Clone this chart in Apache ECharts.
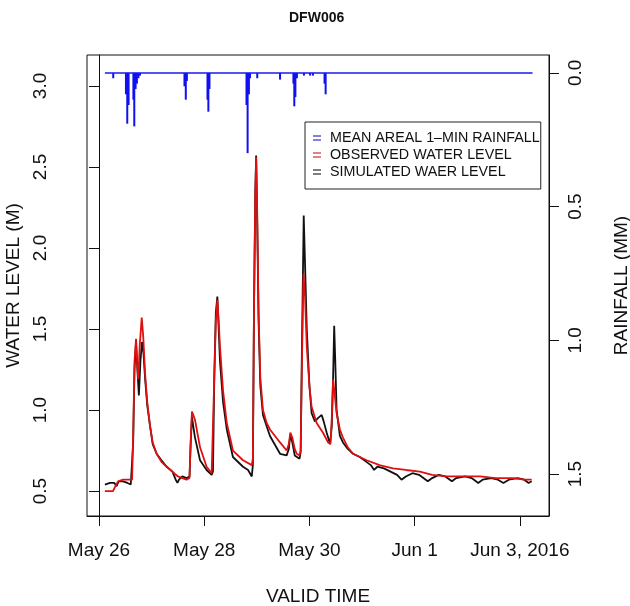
<!DOCTYPE html>
<html>
<head>
<meta charset="utf-8">
<script src="https://cdn.jsdelivr.net/npm/echarts@6/dist/echarts.min.js"></script>
<style>
  html, body { margin: 0; padding: 0; background: #fff; }
  #main { width: 630px; height: 606px; }
</style>
</head>
<body>
<div id="main"></div>
<script>
// time is hours since May 26 00:00
var tickHours = [0, 48, 96, 144, 192];
var tickLabels = ['May 26', 'May 28', 'May 30', 'Jun 1', 'Jun 3, 2016'];
var levelTicks = [0.5, 1.0, 1.5, 2.0, 2.5, 3.0];
var rainTicks = [0.0, 0.5, 1.0, 1.5];

var obsT = [2.7, 6.4, 7.5, 8.7, 11, 15.1, 15.6, 16.2, 16.9, 17.4, 17.9, 18.6, 19.5, 20.2, 21.0, 22.0, 23.3, 24.5, 26.3, 28.5,
    30.9, 33.5, 36.0, 38, 40.0, 41.3, 41.8, 42.4, 43.0, 43.8, 46.1, 49.1, 51.4, 52.0, 52.6, 53.3, 54.0, 54.6, 55.2, 56.6,
    58.3, 61.1, 65.7, 69.7, 70.2, 70.7, 71.3, 71.7, 72.2, 72.8, 73.6, 74.8, 76.5, 78.0, 82.6, 85.6, 86.6, 87.3, 88.2, 89.3,
    90.2, 91.5, 92.0, 92.6, 93.3, 94.0, 94.8, 96.0, 97.0, 99.3, 102.2, 104.5, 105.6, 106.2, 106.8, 107.5, 108.4, 109.9, 111.3, 113.5,
    115.9, 119, 122.1, 128, 134.1, 140, 146.4, 152, 158.6, 166, 173.8, 181, 188.9, 194, 197.4];
var obsV = [0.50, 0.50, 0.53, 0.56, 0.57, 0.57, 0.85, 1.30, 1.44, 1.30, 1.19, 1.40, 1.57, 1.45, 1.23, 1.05, 0.90, 0.80, 0.73, 0.68,
    0.65, 0.62, 0.59, 0.58, 0.57, 0.58, 0.80, 0.99, 0.97, 0.94, 0.77, 0.65, 0.61, 0.62, 1.20, 1.55, 1.68, 1.55, 1.39, 1.12,
    0.92, 0.75, 0.69, 0.66, 0.70, 1.60, 2.30, 2.56, 2.20, 1.60, 1.20, 1.00, 0.92, 0.88, 0.80, 0.75, 0.79, 0.86, 0.83, 0.76,
    0.73, 0.72, 0.75, 1.30, 1.84, 1.70, 1.39, 1.15, 1.02, 0.92, 0.86, 0.80, 0.79, 0.95, 1.19, 1.10, 0.98, 0.88, 0.83, 0.77,
    0.73, 0.71, 0.69, 0.66, 0.64, 0.63, 0.62, 0.60, 0.59, 0.59, 0.59, 0.58, 0.58, 0.57, 0.57];

var simT = [2.7, 5, 7, 8, 9, 11, 13, 14.5, 15.1, 15.6, 16.2, 16.9, 17.5, 18.2, 18.9, 19.6, 20.3, 21.0, 22.0, 23.3,
    24.5, 26.3, 28.5, 30.9, 33.5, 35, 35.8, 36.5, 38, 40.0, 41.3, 41.8, 42.4, 43.0, 43.8, 46.1, 49.1, 51.4, 52.0, 52.6,
    53.3, 54.0, 54.6, 55.2, 56.6, 58.3, 61.1, 65.7, 68, 69.7, 70.2, 70.7, 71.3, 71.7, 72.2, 72.8, 73.6, 74.8, 76.5, 78.0,
    82.6, 85.6, 86.6, 87.3, 88.2, 89.3, 90.2, 91.5, 92.0, 92.6, 93.4, 94.0, 94.8, 96.0, 97.0, 98.5, 99.9, 100.8, 101.6, 102.5,
    103.9, 105.4, 106.2, 106.8, 107.3, 107.8, 108.4, 109.9, 111.3, 113.5, 115.9, 119, 122, 124, 125.5, 127, 130, 133, 136, 138,
    140, 143, 146, 148, 150, 152, 155, 158, 161, 163, 167, 170, 173, 175, 179, 182, 184.5, 187, 191, 194,
    196, 197.4];
var simV = [0.54, 0.55, 0.55, 0.53, 0.56, 0.56, 0.55, 0.54, 0.55, 0.80, 1.25, 1.42, 1.25, 1.09, 1.30, 1.42, 1.35, 1.20, 1.03, 0.90,
    0.79, 0.73, 0.69, 0.65, 0.62, 0.57, 0.55, 0.57, 0.59, 0.58, 0.59, 0.78, 0.96, 0.90, 0.83, 0.69, 0.63, 0.60, 0.62, 1.20,
    1.60, 1.70, 1.50, 1.30, 1.05, 0.88, 0.71, 0.65, 0.63, 0.59, 0.66, 1.60, 2.35, 2.57, 2.15, 1.55, 1.15, 0.97, 0.90, 0.84,
    0.73, 0.72, 0.76, 0.85, 0.80, 0.72, 0.71, 0.70, 0.74, 1.40, 2.20, 1.90, 1.50, 1.15, 0.98, 0.93, 0.95, 0.94, 0.97, 0.93,
    0.86, 0.79, 0.90, 1.20, 1.52, 1.30, 1.00, 0.84, 0.80, 0.76, 0.73, 0.71, 0.68, 0.66, 0.63, 0.65, 0.64, 0.62, 0.60, 0.57,
    0.59, 0.61, 0.60, 0.58, 0.56, 0.58, 0.60, 0.59, 0.56, 0.58, 0.59, 0.58, 0.55, 0.57, 0.58, 0.57, 0.55, 0.57, 0.58, 0.57,
    0.55, 0.56];

var rainT = [6.5, 12.3, 12.9, 13.5, 15.7, 16.1, 16.7, 17.3, 18.0, 18.7, 39.0, 39.6, 40.1, 49.5, 49.9, 50.4,
    67.3, 67.8, 68.4, 68.9, 72.2, 82.6, 88.7, 89.1, 89.6, 90.3, 93.5, 96.3, 97.6, 102.9, 103.4];
var rainV = [0.02, 0.08, 0.19, 0.12, 0.10, 0.20, 0.06, 0.04, 0.02, 0.01, 0.05, 0.10, 0.03, 0.10, 0.145, 0.06,
    0.12, 0.30, 0.08, 0.02, 0.02, 0.025, 0.04, 0.125, 0.09, 0.02, 0.01, 0.01, 0.01, 0.04, 0.08];
var rainSpan = [2.7, 197.8];

var RAIN = 'MEAN AREAL 1–MIN RAINFALL';
var OBS = 'OBSERVED WATER LEVEL';
var SIM = 'SIMULATED WAER LEVEL';

function pairs(t, v) {
    var out = [];
    for (var i = 0; i < t.length; i++) {
        out.push([t[i], v[i]]);
    }
    return out;
}

var font = 'Liberation Sans, Arial, Helvetica, sans-serif';
var eq = 'path://M0,0H10V2H0Z M0,5H10V7H0Z';

var myChart = echarts.init(document.getElementById('main'));

var option = {
    animation: false,
    textStyle: { fontFamily: font },
    graphic: [{
        type: 'text',
        left: 318 - 29,
        top: 11,
        style: { text: 'DFW006', fontSize: 14, fontWeight: 'bold', fill: '#111', fontFamily: font }
    }],
    legend: {
        orient: 'vertical',
        left: 305,
        top: 122,
        padding: [8, 1, 9, 8],
        itemGap: 1,
        itemWidth: 8,
        itemHeight: 6,
        borderColor: '#222',
        borderWidth: 1,
        backgroundColor: '#fff',
        textStyle: { fontSize: 14.3, color: '#111', lineHeight: 16, padding: [0, 0, 0, 4], fontFamily: font },
        data: [
            { name: RAIN, icon: eq, itemStyle: { color: '#5a5ad0' } },
            { name: OBS, icon: eq, itemStyle: { color: '#d85a5a' } },
            { name: SIM, icon: eq, itemStyle: { color: '#555' } }
        ]
    },
    grid: {
        left: 87,
        right: 81,
        top: 55,
        bottom: 90,
        outerBoundsMode: 'none',
        show: true,
        borderColor: '#111',
        borderWidth: 1
    },
    xAxis: {
        type: 'value',
        min: -5.47,
        max: 205.3,
        name: 'VALID TIME',
        nameLocation: 'middle',
        nameGap: 71,
        nameTextStyle: { fontSize: 19, color: '#111' },
        splitLine: { show: false },
        axisLine: { onZero: false, lineStyle: { color: '#111' } },
        axisTick: { length: 10, customValues: tickHours, lineStyle: { color: '#111' } },
        axisLabel: {
            customValues: tickHours,
            margin: 25,
            fontSize: 19,
            color: '#111',
            formatter: function(v) {
                return tickLabels[tickHours.indexOf(v)];
            }
        }
    },
    yAxis: [{
            type: 'value',
            position: 'left',
            min: 0.346,
            max: 3.191,
            name: 'WATER LEVEL (M)',
            nameLocation: 'middle',
            nameRotate: 90,
            nameGap: 60,
            nameTextStyle: { fontSize: 19, color: '#111' },
            splitLine: { show: false },
            axisLine: { show: true, lineStyle: { color: '#111' } },
            axisTick: { show: true, length: 10, customValues: levelTicks, lineStyle: { color: '#111' } },
            axisLabel: {
                customValues: levelTicks,
                rotate: 90,
                margin: 37,
                fontSize: 19,
                color: '#111',
                formatter: function(v) { return v.toFixed(1); }
            }
        },
        {
            type: 'value',
            position: 'right',
            inverse: true,
            min: -0.067,
            max: 1.657,
            name: 'RAINFALL (MM)',
            nameLocation: 'middle',
            nameRotate: 90,
            nameGap: 63,
            nameTextStyle: { fontSize: 19, color: '#111' },
            splitLine: { show: false },
            axisLine: { show: true, lineStyle: { color: '#111' } },
            axisTick: { show: true, length: 10, customValues: rainTicks, lineStyle: { color: '#111' } },
            axisLabel: {
                customValues: rainTicks,
                rotate: 90,
                margin: 17,
                fontSize: 19,
                color: '#111',
                formatter: function(v) { return v.toFixed(1); }
            }
        }
    ],
    series: [{
            name: RAIN,
            type: 'line',
            yAxisIndex: 1,
            data: [[rainSpan[0], 0], [rainSpan[1], 0]],
            symbol: 'none',
            lineStyle: { color: '#1a1aee', width: 1.5 },
            itemStyle: { color: '#1a1aee' }
        },
        {
            name: RAIN,
            type: 'bar',
            yAxisIndex: 1,
            data: pairs(rainT, rainV),
            barWidth: 2,
            itemStyle: { color: '#1010f0' }
        },
        {
            name: SIM,
            type: 'line',
            data: pairs(simT, simV),
            symbol: 'none',
            lineStyle: { color: '#111', width: 1.8 },
            itemStyle: { color: '#111' }
        },
        {
            name: OBS,
            type: 'line',
            data: pairs(obsT, obsV),
            symbol: 'none',
            lineStyle: { color: '#e01010', width: 1.8 },
            itemStyle: { color: '#e01010' }
        }
    ]
};

myChart.setOption(option);
</script>
</body>
</html>
